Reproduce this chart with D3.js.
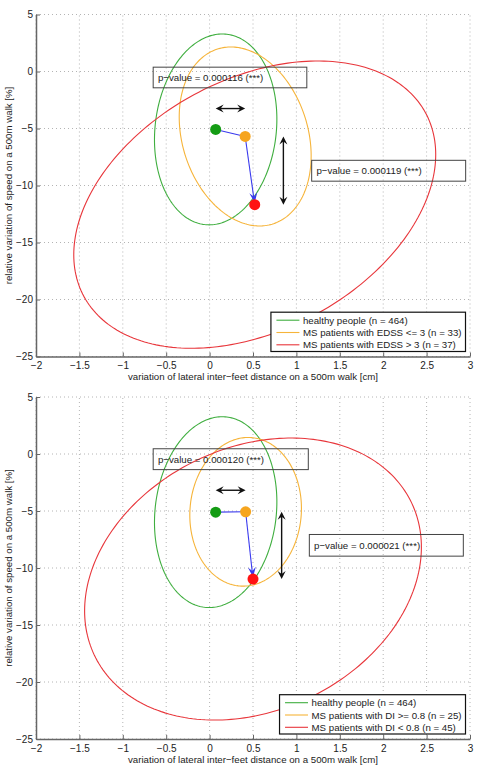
<!DOCTYPE html>
<html>
<head>
<meta charset="utf-8">
<script src="https://cdn.jsdelivr.net/npm/d3@7"></script>
<style>
  body { margin: 0; background: #fff; }
  svg text { font-family: "Liberation Sans", Arial, sans-serif; fill: #222; }
</style>
</head>
<body>
<div id="chart"></div>
<script>
// Axis ticks shared by both panels
const xTicks = [-2, -1.5, -1, -0.5, 0, 0.5, 1, 1.5, 2, 2.5, 3];
const xTickLabels = ["−2", "−1.5", "−1", "−0.5", "0", "0.5", "1", "1.5", "2", "2.5", "3"];
const yTicks = [5, 0, -5, -10, -15, -20, -25];
const yTickLabels = ["5", "0", "−5", "−10", "−15", "−20", "−25"];

// Top panel: EDSS groups (mean + ellipse spread)
const topLabels = ["healthy people (n = 464)", "MS patients with EDSS <= 3 (n = 33)", "MS patients with EDSS > 3 (n = 37)"];
const topMeanX = [0.07, 0.41, 0.52];
const topMeanY = [-5.08, -5.7, -11.68];
const topSpreadX = [0.705, 0.76, 2.085]; // half width of ellipse
const topSpreadY = [8.37, 7.85, 12.6]; // half height of ellipse
const topTilt = [0.9, -1.7, 4.4]; // y offset at the right-most point
const topPValues = ["p−value = 0.000116 (***)", "p−value = 0.000119 (***)"];

// Bottom panel: DI groups
const botLabels = ["healthy people (n = 464)", "MS patients with DI >= 0.8 (n = 25)", "MS patients with DI < 0.8 (n = 45)"];
const botMeanX = [0.07, 0.415, 0.5];
const botMeanY = [-5.1, -5.07, -10.97];
const botSpreadX = [0.705, 0.643, 1.94];
const botSpreadY = [8.37, 6.52, 12.37];
const botTilt = [0.9, 0.3, 2.8];
const botPValues = ["p−value = 0.000120 (***)", "p−value = 0.000021 (***)"];

const ellipseColors = ["#3fae3f", "#f6b43a", "#e8363b"];
const pointColors = ["#149c14", "#f6a51e", "#ff1212"];

const w = 477;
const h = 767;

const svg = d3
  .select("#chart")
  .append("svg")
  .attr("width", w)
  .attr("height", h);

// draws a filled arrow head with a notch at (x2,y2) pointing away from (x1,y1)
function arrowHead(sel, x1, y1, x2, y2, len, half, notch, color) {
  const a = Math.atan2(y2 - y1, x2 - x1);
  const ux = Math.cos(a), uy = Math.sin(a);
  const px = -uy, py = ux;
  const pts = [
    [x2, y2],
    [x2 - ux * len + px * half, y2 - uy * len + py * half],
    [x2 - ux * notch, y2 - uy * notch],
    [x2 - ux * len - px * half, y2 - uy * len - py * half]
  ];
  sel.append("polygon")
    .attr("points", pts.map((p) => p.join(",")).join(" "))
    .attr("fill", color);
}

function drawPanel(top, cfg) {
  const bottom = top + 342;
  const x = d3.scaleLinear().domain([-2, 3]).range([36, 470]);
  const y = d3.scaleLinear().domain([-25, 5]).range([bottom, top]);
  const g = svg.append("g");

  // dotted grid
  g.append("g")
    .selectAll("line")
    .data(xTicks)
    .join("line")
    .attr("x1", (d) => x(d))
    .attr("x2", (d) => x(d))
    .attr("y1", y(-25))
    .attr("y2", y(5))
    .attr("stroke", "#b4b4b4")
    .attr("stroke-dasharray", "1,3");
  g.append("g")
    .selectAll("line")
    .data(yTicks)
    .join("line")
    .attr("x1", x(-2))
    .attr("x2", x(3))
    .attr("y1", (d) => y(d))
    .attr("y2", (d) => y(d))
    .attr("stroke", "#b4b4b4")
    .attr("stroke-dasharray", "1,3");

  // ellipses
  const line = d3.line()
    .x((d) => x(d[0]))
    .y((d) => y(d[1]))
    .curve(d3.curveLinearClosed);
  cfg.meanX.forEach((mx, i) => {
    const a = cfg.spreadX[i];
    const c = cfg.tilt[i];
    const b = Math.sqrt(cfg.spreadY[i] * cfg.spreadY[i] - c * c);
    const pts = d3.range(0, 2 * Math.PI, Math.PI / 120).map((t) => [
      mx + a * Math.cos(t),
      cfg.meanY[i] + c * Math.cos(t) + b * Math.sin(t)
    ]);
    g.append("path")
      .attr("d", line(pts))
      .attr("fill", "none")
      .attr("stroke", ellipseColors[i])
      .attr("stroke-width", 1.1);
  });

  // axes (ticks pointing inward)
  const xAxis = d3.axisBottom(x)
    .tickValues(xTicks)
    .tickFormat((d, i) => xTickLabels[i])
    .tickSizeInner(-4)
    .tickSizeOuter(0)
    .tickPadding(5.5);
  const yAxis = d3.axisLeft(y)
    .tickValues(yTicks)
    .tickFormat((d, i) => yTickLabels[i])
    .tickSizeInner(-4)
    .tickSizeOuter(0)
    .tickPadding(3);
  [g.append("g").attr("transform", "translate(0," + bottom + ")").call(xAxis),
   g.append("g").attr("transform", "translate(36,0)").call(yAxis)].forEach((ax) => {
    ax.attr("font-size", 10);
    ax.select(".domain").attr("stroke", "#666").attr("stroke-width", 1.5);
    ax.selectAll(".tick line").attr("stroke", "#666");
  });

  // blue path between the group means
  const mx = cfg.meanX.map((d) => x(d));
  const my = cfg.meanY.map((d) => y(d));
  g.append("line")
    .attr("x1", mx[0]).attr("y1", my[0])
    .attr("x2", mx[1]).attr("y2", my[1])
    .attr("stroke", "#3a3aee").attr("stroke-width", 1.1);
  g.append("line")
    .attr("x1", mx[1]).attr("y1", my[1])
    .attr("x2", mx[2]).attr("y2", my[2])
    .attr("stroke", "#3a3aee").attr("stroke-width", 1.1);
  arrowHead(g, mx[1], my[1], mx[2], my[2] - 2, 10, 4, 6, "#3a3aee");

  // black double arrows
  const hy = y(cfg.hArrowY);
  g.append("line")
    .attr("x1", mx[0] + 3).attr("x2", mx[1] - 3)
    .attr("y1", hy).attr("y2", hy)
    .attr("stroke", "#111").attr("stroke-width", 1.4);
  arrowHead(g, mx[1], hy, mx[0], hy, 8, 4, 5, "#111");
  arrowHead(g, mx[0], hy, mx[1], hy, 8, 4, 5, "#111");
  const vx = x(cfg.vArrowX);
  g.append("line")
    .attr("x1", vx).attr("x2", vx)
    .attr("y1", my[1] + 3).attr("y2", my[2] - 3)
    .attr("stroke", "#111").attr("stroke-width", 1.4);
  arrowHead(g, vx, my[2], vx, my[1], 8, 4, 5, "#111");
  arrowHead(g, vx, my[1], vx, my[2], 8, 4, 5, "#111");

  // group means
  g.selectAll("circle.mean")
    .data(cfg.meanX)
    .join("circle")
    .attr("class", "mean")
    .attr("cx", (d) => x(d))
    .attr("cy", (d, i) => y(cfg.meanY[i]))
    .attr("r", 5.5)
    .attr("fill", (d, i) => pointColors[i]);

  // p-value boxes
  cfg.boxes.forEach((bx, i) => {
    const x0 = x(bx[0]), x1 = x(bx[1]), y0 = y(bx[2]), y1 = y(bx[3]);
    g.append("rect")
      .attr("x", x0).attr("y", y0)
      .attr("width", x1 - x0).attr("height", y1 - y0)
      .attr("fill", "none")
      .attr("stroke", "#444")
      .attr("stroke-width", 1);
    g.append("text")
      .attr("x", x0 + 4.7)
      .attr("y", (y0 + y1) / 2 + 3.5)
      .attr("font-size", 9.7)
      .text(cfg.pValues[i]);
  });

  // legend in the lower right corner
  const leg = g.append("g");
  const texts = leg.selectAll("text")
    .data(cfg.labels)
    .join("text")
    .attr("font-size", 9.7)
    .text((d) => d);
  const tw = d3.max(texts.nodes(), (n) => n.getComputedTextLength());
  const lw = tw + 36;
  const lh = 39.3;
  const lx = x(3) - 4.5 - lw;
  const ly = bottom - 5 - lh;
  leg.insert("rect", "text")
    .attr("x", lx).attr("y", ly)
    .attr("width", lw).attr("height", lh)
    .attr("fill", "#fff")
    .attr("stroke", "#111")
    .attr("stroke-width", 1.2);
  texts.attr("x", lx + 32).attr("y", (d, i) => ly + 8 + i * 12.3 + 3.5);
  leg.selectAll("line")
    .data(cfg.labels)
    .join("line")
    .attr("x1", lx + 5.5).attr("x2", lx + 34 - 5.5)
    .attr("y1", (d, i) => ly + 8 + i * 12.3)
    .attr("y2", (d, i) => ly + 8 + i * 12.3)
    .attr("stroke", (d, i) => ellipseColors[i])
    .attr("stroke-width", 1.1);

  // axis titles
  g.append("text")
    .attr("x", 253)
    .attr("y", bottom + 23.5)
    .attr("text-anchor", "middle")
    .attr("font-size", 9.7)
    .text("variation of lateral inter−feet distance on a 500m walk [cm]");
  g.append("text")
    .attr("transform", "translate(11.5," + (top + bottom) / 2 + ") rotate(-90)")
    .attr("text-anchor", "middle")
    .attr("font-size", 9.7)
    .text("relative variation of speed on a 500m walk [%]");
}

drawPanel(14.5, {
  labels: topLabels, meanX: topMeanX, meanY: topMeanY,
  spreadX: topSpreadX, spreadY: topSpreadY, tilt: topTilt, pValues: topPValues,
  hArrowY: -3.25, vArrowX: 0.85,
  boxes: [[-0.65, 1.12, 0.38, -1.43], [1.176, 2.95, -7.79, -9.62]]
});

drawPanel(397, {
  labels: botLabels, meanX: botMeanX, meanY: botMeanY,
  spreadX: botSpreadX, spreadY: botSpreadY, tilt: botTilt, pValues: botPValues,
  hArrowY: -3.18, vArrowX: 0.83,
  boxes: [[-0.65, 1.137, 0.46, -1.37], [1.149, 2.923, -7.06, -8.96]]
});
</script>
</body>
</html>
